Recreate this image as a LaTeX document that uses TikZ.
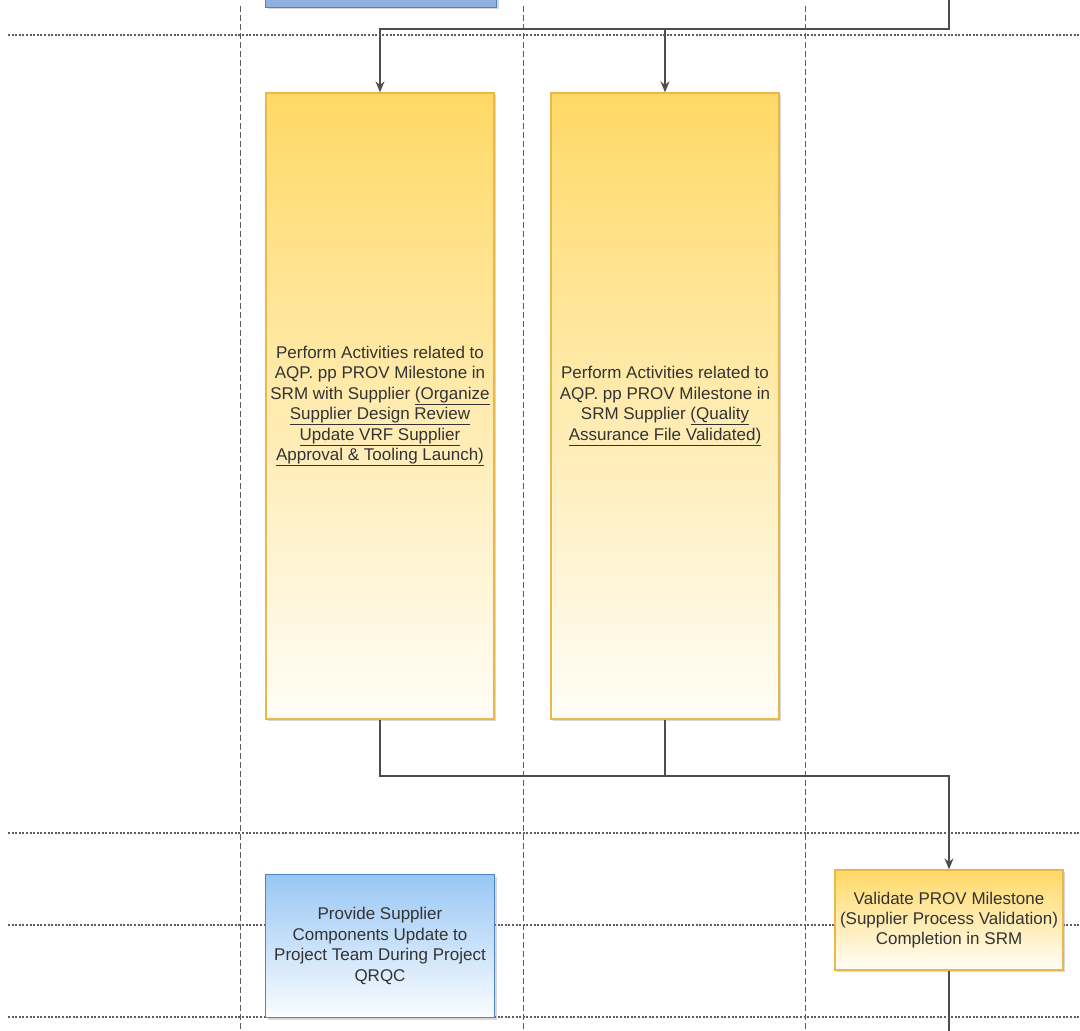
\documentclass[tikz,border=0pt]{standalone}
\usepackage{fontspec}
\setmainfont{Liberation Sans}
\usetikzlibrary{shadows,arrows.meta}
\definecolor{ytop}{HTML}{FFD966}
\definecolor{ybot}{HTML}{FFFDF7}
\definecolor{yedge}{HTML}{E8B84B}
\definecolor{btop}{HTML}{99C7F5}
\definecolor{bbot}{HTML}{FAFCFF}
\definecolor{bedge}{HTML}{4F84C4}
\definecolor{pfill}{HTML}{8FB1DE}
\definecolor{conn}{HTML}{4D4D4D}
\definecolor{lane}{HTML}{5E5E5E}
\definecolor{txt}{HTML}{333333}
\tikzset{
  box/.style={draw, line width=1.3pt, rectangle, inner sep=0pt, align=center, text=txt,
    font=\fontsize{17}{20.4}\selectfont,
    drop shadow={shadow xshift=2pt, shadow yshift=-2pt, opacity=.3, fill=gray}},
  ybox/.style={box, draw=yedge, top color=ytop, bottom color=ybot},
  bbox/.style={box, draw=bedge, top color=btop, bottom color=bbot},
  lanev/.style={draw=lane, line width=0.9pt, dash pattern=on 6pt off 3pt},
  laneh/.style={draw=lane, line width=1.1pt, dash pattern=on 2pt off 1.6pt},
  flow/.style={draw=conn, line width=1.4pt},
  arr/.style={flow, -{Stealth[length=11pt,width=9pt]}},
}
\begin{document}
\begin{tikzpicture}[x=1pt,y=-1pt]
\clip (0,0) rectangle (1080,1031);
\fill[white] (0,0) rectangle (1080,1031);
% lanes
\draw[lanev] (240,6) -- (240,1031);
\draw[lanev] (523,6) -- (523,1031);
\draw[lanev] (805,6) -- (805,1031);
\draw[laneh] (8,35) -- (1080,35);
\draw[laneh] (8,833) -- (1080,833);
\draw[laneh] (8,925) -- (1080,925);
\draw[laneh] (8,1017) -- (1080,1017);
% boxes
\node[box, draw=bedge, fill=pfill, anchor=south, minimum width=231pt, minimum height=40pt] (prev) at (381,8) {};
\node[ybox, minimum width=228pt, minimum height=626pt] (box1) at (380,406) {Perform Activities related to\\AQP. pp PROV Milestone in\\SRM with Supplier \underline{(Organize}\\\underline{Supplier Design Review}\\\underline{Update VRF Supplier}\\\underline{Approval \& Tooling Launch)}};
\node[ybox, minimum width=228pt, minimum height=626pt] (box2) at (665,406) {Perform Activities related to\\AQP. pp PROV Milestone in\\SRM Supplier \underline{(Quality}\\\underline{Assurance File Validated)}};
\node[ybox, minimum width=228pt, minimum height=100pt] (box3) at (949,920) {Validate PROV Milestone\\(Supplier Process Validation)\\Completion in SRM};
\node[bbox, minimum width=229pt, minimum height=143pt] (box4) at (380,946) {Provide Supplier\\Components Update to\\Project Team During Project\\QRQC};
% connectors
\coordinate (src) at (949,-5);
\coordinate (t1) at (949,29);
\draw[arr] (src) -- (t1) -| (box1.north);
\draw[arr] (box2.north |- t1) -- (box2.north);
\coordinate (jb) at (949,776);
\draw[arr] (box1.south) |- (jb) -- (box3.north);
\draw[flow] (box2.south) -- (box2.south |- jb);
\coordinate (out) at (949,1040);
\draw[flow] (box3.south) -- (out);
\end{tikzpicture}
\end{document}
